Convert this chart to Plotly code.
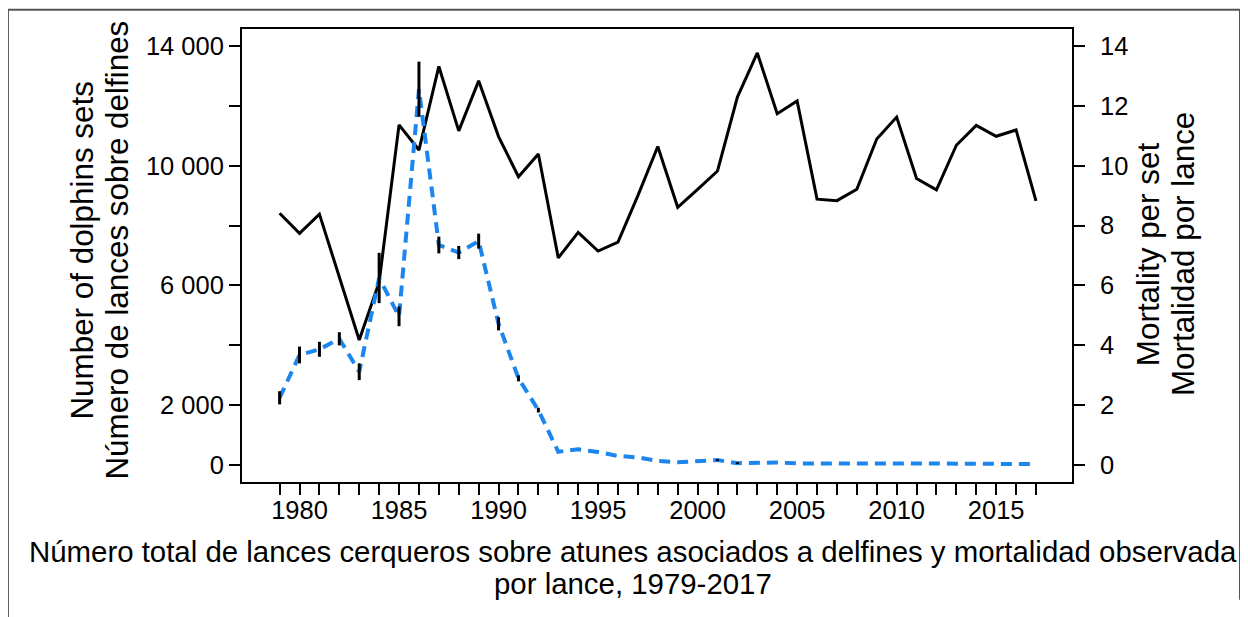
import plotly.graph_objects as go

# ---- data ----
years = list(range(1979, 2018))
dolphin_sets = [8410, 7740, 8380, 6280, 4180, 6110, 11360, 10520, 13310, 11160,
                12830, 10970, 9630, 10390, 6920, 7770, 7150, 7450, 9000, 10640,
                8610, 9210, 9820, 12290, 13760, 11730, 12160, 8880, 8830, 9210,
                10890, 11620, 9570, 9190, 10680, 11340, 10980, 11190, 8820]
mortality_per_set = [2.25, 3.68, 3.87, 4.22, 3.12, 6.25, 4.97, 12.55, 7.35, 7.1,
                     7.48, 4.72, 2.9, 1.84, 0.45, 0.53, 0.44, 0.31, 0.26, 0.14,
                     0.1, 0.13, 0.17, 0.07, 0.08, 0.09, 0.06, 0.06, 0.06, 0.09,
                     0.08, 0.07, 0.07, 0.06, 0.05, 0.05, 0.04, 0.03, 0.04]
mortality_err = [0.22, 0.28, 0.25, 0.22, 0.28, 0.84, 0.33, 0.92, 0.28, 0.22,
                 0.25, 0.22, 0.1, 0.08, 0, 0, 0, 0, 0, 0,
                 0, 0, 0.03, 0.03, 0, 0, 0, 0, 0, 0,
                 0, 0, 0, 0, 0, 0, 0, 0, 0]

left_tick_vals = [0, 2000, 4000, 6000, 8000, 10000, 12000, 14000]
left_tick_text = ["0", "2 000", "", "6 000", "", "10 000", "", "14 000"]
right_tick_vals = [0, 2, 4, 6, 8, 10, 12, 14]
x_tick_text = [str(y) if y % 5 == 0 else "" for y in years]

title_x = "Número total de lances cerqueros sobre atunes asociados a delfines y mortalidad observada"
title_x2 = "por lance, 1979-2017"
title_left = ["Number of dolphins sets", "Número de lances sobre delfines"]
title_right = ["Mortality per set", "Mortalidad por lance"]

FONT = "Liberation Sans, Arial, sans-serif"

fig = go.Figure()
fig.add_trace(go.Scatter(x=years, y=dolphin_sets, mode="lines",
                         line=dict(color="black", width=3), yaxis="y"))
fig.add_trace(go.Scatter(x=years, y=mortality_per_set, mode="lines",
                         line=dict(color="#1C86EE", width=4, dash="11px,7px"),
                         yaxis="y2"))
fig.add_trace(go.Scatter(x=years, y=mortality_per_set, mode="markers",
                         marker=dict(size=1, color="rgba(0,0,0,0)"),
                         error_y=dict(type="data", array=mortality_err, visible=True,
                                      color="black", thickness=3, width=0),
                         yaxis="y2"))

axis_common = dict(showgrid=False, zeroline=False, showline=True, linecolor="black",
                   linewidth=2, ticks="outside", ticklen=11, tickwidth=2,
                   tickcolor="black", tickfont=dict(family=FONT, size=25.5, color="black"))

# the page body has an 8px margin, so margins are offset to put the plot frame
# at x 242..1072, y 29..482 in the window
fig.update_layout(
    width=1248, height=617,
    margin=dict(l=234, r=184, t=21, b=143),
    paper_bgcolor="white", plot_bgcolor="white",
    showlegend=False,
    font=dict(family=FONT, color="black"),
    xaxis=dict(range=[1977.11, 2018.81], tickmode="array", tickvals=years,
               ticktext=x_tick_text, mirror=True, ticklabelstandoff=-7,
               **axis_common),
    yaxis=dict(range=[-560, 14560], tickmode="array", tickvals=left_tick_vals,
               ticktext=left_tick_text, **axis_common),
    yaxis2=dict(range=[-0.56, 14.56], tickmode="array", tickvals=right_tick_vals,
                overlaying="y", side="right", ticklabelstandoff=10, **axis_common),
)

ann = []
ann.append(dict(text=title_left[0], x=-0.1916, y=0.513, textangle=-90, size=31.4))
ann.append(dict(text=title_left[1], x=-0.1494, y=0.513, textangle=-90, size=31.4))
ann.append(dict(text=title_right[0], x=1.0916, y=0.503, textangle=-90, size=31.4))
ann.append(dict(text=title_right[1], x=1.1337, y=0.503, textangle=-90, size=31.4))
ann.append(dict(text=title_x, x=0.471, y=-0.1539, textangle=0, size=29.4))
ann.append(dict(text=title_x2, x=0.471, y=-0.224, textangle=0, size=29.4))
for a in ann:
    s = a.pop("size")
    a.update(xref="paper", yref="paper", xanchor="center", yanchor="middle",
             showarrow=False, font=dict(family=FONT, size=s, color="black"))
fig.update_layout(annotations=ann)

# outer grey border (partial frame as in the reference)
border = dict(type="line", xref="paper", yref="paper",
              line=dict(color="#555555", width=2))
fig.add_shape(**border, x0=-0.282, y0=-0.30, x1=-0.282, y1=1.0426)
fig.add_shape(**border, x0=-0.282, y0=1.0426, x1=1.2024, y1=1.0426)
fig.add_shape(**border, x0=1.2024, y0=1.0426, x1=1.2024, y1=-0.26)

fig.write_html("out.html")
